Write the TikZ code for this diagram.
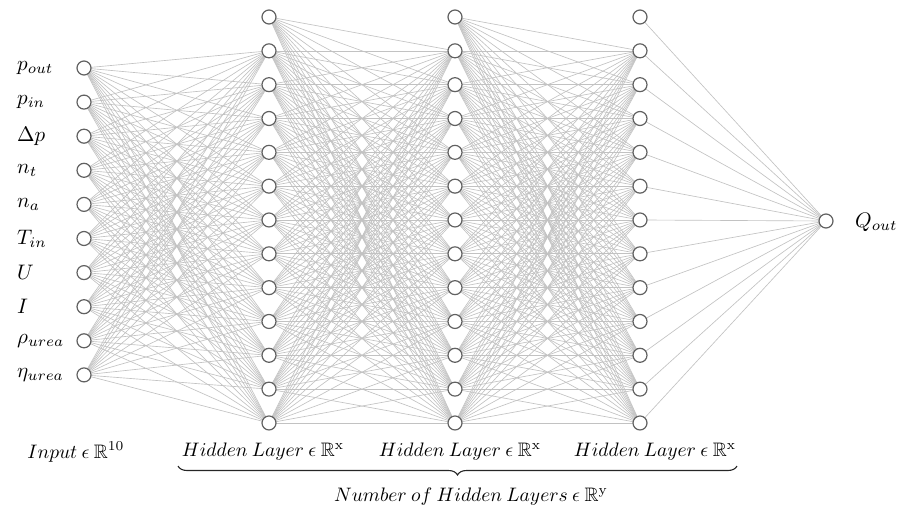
\documentclass[tikz,border=0pt]{standalone}
\usepackage{amsmath,amssymb}
\usetikzlibrary{decorations.pathreplacing}
\newcommand{\nnlabel}[1]{\scalebox{2.1}{$#1$}}
\newcommand{\nncap}[1]{\scalebox{1.95}{$#1$}}
\begin{document}
\begin{tikzpicture}[x=1pt,y=-1pt,
  neuron/.style={circle,draw=black!62,line width=1.2pt,fill=white,minimum size=14pt,inner sep=0pt},
  link/.style={draw=black!24,line width=0.65pt},
  lbl/.style={font=\normalsize,inner sep=0pt},
  brc/.style={decorate,decoration={brace,mirror,amplitude=9pt},line width=1.1pt,draw=black!85}]
\useasboundingbox (0,0) rectangle (900,517);

% input layer
\foreach \i in {1,...,10}
  \coordinate (in\i) at (84,{68+34.1*(\i-1)});
% hidden layers (node 0 is the bias unit on top)
\foreach \l/\x in {1/269,2/455,3/640}
  \foreach \k in {0,...,12}
    \coordinate (h\l-\k) at (\x,{17+33.83*\k});
\coordinate (out) at (826,221);

% connections
\foreach \i in {1,...,10}
  \foreach \k in {1,...,12}
    \draw[link] (in\i) -- (h1-\k);
\foreach \l/\m in {1/2,2/3}
  \foreach \j in {0,...,12}
    \foreach \k in {1,...,12}
      \draw[link] (h\l-\j) -- (h\m-\k);
\foreach \j in {0,...,12}
  \draw[link] (h3-\j) -- (out);

% neurons
\foreach \i in {1,...,10}
  \node[neuron] (nin\i) at (in\i) {};
\foreach \l in {1,2,3}
  \foreach \k in {0,...,12}
    \node[neuron] (nh\l-\k) at (h\l-\k) {};
\node[neuron] (nout) at (out) {};

% input labels
\foreach \i/\t in {1/p_{out},2/p_{in},3/\Delta p,4/n_t,5/n_a,6/T_{in},7/U,8/I,9/\rho_{urea},10/\eta_{urea}}
  \node[lbl,anchor=west] (lab\i) at (17,{68+34.1*(\i-1)}) {\nnlabel{\t}};
\node[lbl,anchor=west] (labout) at (855,222) {\nnlabel{Q_{out}}};

% layer captions
\node[lbl] (capin) at (76,452) {\nncap{Input\:\epsilon\:\mathbb{R}^{10}}};
\node[lbl] (cap1) at (263,452) {\nncap{Hidden\:Layer\:\epsilon\:\mathbb{R}^{\mathrm{x}}}};
\node[lbl] (cap2) at (460,452) {\nncap{Hidden\:Layer\:\epsilon\:\mathbb{R}^{\mathrm{x}}}};
\node[lbl] (cap3) at (655,452) {\nncap{Hidden\:Layer\:\epsilon\:\mathbb{R}^{\mathrm{x}}}};

\coordinate (bl) at (178,466);
\coordinate (br) at (737,466);
\draw[brc] (bl) -- (br);
\node[lbl] (capall) at (471,497) {\nncap{Number\:of\:Hidden\:Layers\:\epsilon\:\mathbb{R}^{\mathrm{y}}}};
\end{tikzpicture}
\end{document}
